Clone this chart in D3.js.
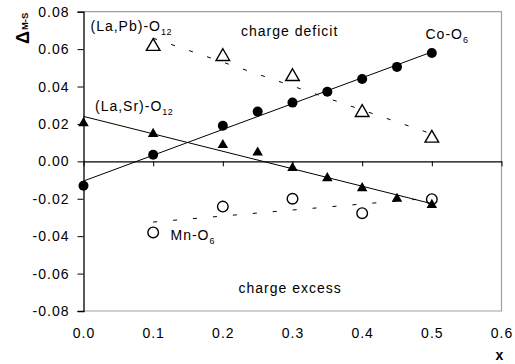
<!DOCTYPE html>
<html>
<head>
<meta charset="utf-8">
<script src="https://cdn.jsdelivr.net/npm/d3@7"></script>
<style>
  html, body { margin: 0; padding: 0; background: #fff; }
  svg { display: block; }
  text { font-family: "Liberation Sans", Arial, sans-serif; fill: #000; }
</style>
</head>
<body>
<svg id="chart" width="515" height="364"></svg>
<script>
// ---- data ----
const coX = [0.0, 0.1, 0.2, 0.25, 0.3, 0.35, 0.4, 0.45, 0.5];
const coY = [-0.013, 0.0035, 0.019, 0.0266, 0.0314, 0.0372, 0.044, 0.0505, 0.0579];
const srX = [0.0, 0.1, 0.2, 0.25, 0.3, 0.35, 0.4, 0.45, 0.5];
const srY = [0.0204, 0.0147, 0.0087, 0.0047, -0.0036, -0.009, -0.0143, -0.020, -0.0233];
const pbX = [0.1, 0.2, 0.3, 0.4, 0.5];
const pbY = [0.0614, 0.056, 0.0453, 0.0261, 0.0124];
const mnX = [0.1, 0.2, 0.3, 0.4, 0.5];
const mnY = [-0.038, -0.0242, -0.020, -0.0277, -0.0202];
const xTicks = [0.0, 0.1, 0.2, 0.3, 0.4, 0.5, 0.6];
const xTickLabels = ["0.0", "0.1", "0.2", "0.3", "0.4", "0.5", "0.6"];
const yTicks = [-0.08, -0.06, -0.04, -0.02, 0.0, 0.02, 0.04, 0.06, 0.08];
const yTickLabels = ["-0.08", "-0.06", "-0.04", "-0.02", "0.00", "0.02", "0.04", "0.06", "0.08"];

const svg = d3.select("#chart");
const L = 83.5, R = 501.5, T = 11.7, B = 311;
const x = d3.scaleLinear().domain([0, 0.6]).range([L, R]);
const y = d3.scaleLinear().domain([-0.08, 0.08]).range([B, T]);

function fit(xs, ys) {
  const mx = d3.mean(xs), my = d3.mean(ys);
  let sxy = 0, sxx = 0;
  xs.forEach((v, i) => { sxy += (v - mx) * (ys[i] - my); sxx += (v - mx) * (v - mx); });
  const b = sxy / sxx, a = my - b * mx;
  const x0 = d3.min(xs), x1 = d3.max(xs);
  return [[x0, a + b * x0], [x1, a + b * x1]];
}

// frame (gray)
svg.append("path")
  .attr("d", `M${L},${T}H${R}V${B}H${L}`)
  .attr("fill", "none").attr("stroke", "#a0a0a0").attr("stroke-width", 1.2);

// y axis
const yAxis = d3.axisLeft(y).tickValues(yTicks).tickSize(6).tickPadding(8)
  .tickFormat((d, i) => yTickLabels[i]);
const gy = svg.append("g").attr("transform", `translate(${L},0)`).call(yAxis);
gy.select(".domain").attr("stroke", "#000").attr("stroke-width", 1.3);
gy.selectAll(".tick line").attr("stroke", "#000");
gy.selectAll(".tick text").style("font-size", "14px").style("letter-spacing", "1px")
  .style("font-family", "Liberation Sans, Arial, sans-serif").attr("fill", "#000");

// zero line axis with ticks downward
const xAxis0 = d3.axisBottom(x).tickValues(xTicks).tickSize(5).tickFormat("").tickSizeOuter(0);
const gx0 = svg.append("g").attr("transform", `translate(0,${y(0)})`).call(xAxis0);
gx0.select(".domain").attr("stroke", "#000").attr("stroke-width", 1.2);
gx0.selectAll(".tick line").attr("stroke", "#000");

// bottom labels
const xAxisB = d3.axisBottom(x).tickValues(xTicks).tickSize(0).tickPadding(17)
  .tickFormat((d, i) => xTickLabels[i]);
const gxb = svg.append("g").attr("transform", `translate(0,${B})`).call(xAxisB);
gxb.select(".domain").remove();
gxb.selectAll(".tick text").style("font-size", "14px").style("letter-spacing", "1px")
  .style("font-family", "Liberation Sans, Arial, sans-serif").attr("fill", "#000");

// trend lines
const line = d3.line().x(d => x(d[0])).y(d => y(d[1]));
svg.append("path").attr("d", line(fit(coX, coY))).attr("stroke", "#000").attr("stroke-width", 1).attr("fill", "none");
svg.append("path").attr("d", line(fit(srX, srY))).attr("stroke", "#000").attr("stroke-width", 1).attr("fill", "none");
svg.append("path").attr("d", line(fit(pbX, pbY))).attr("stroke", "#000").attr("stroke-width", 1)
  .attr("stroke-dasharray", "4,15").attr("fill", "none");
svg.append("path").attr("d", line(fit(mnX, mnY))).attr("stroke", "#000").attr("stroke-width", 1)
  .attr("stroke-dasharray", "4,16").attr("fill", "none");

// open markers
svg.append("g").selectAll("circle").data(mnX).join("circle")
  .attr("cx", d => x(d)).attr("cy", (d, i) => y(mnY[i])).attr("r", 5.3)
  .attr("fill", "none").attr("stroke", "#000").attr("stroke-width", 1.4);
const triOpen = d3.symbol().type(d3.symbolTriangle).size(80);
svg.append("g").selectAll("path").data(pbX).join("path")
  .attr("d", triOpen).attr("transform", (d, i) => `translate(${x(d)},${y(pbY[i])})`)
  .attr("fill", "none").attr("stroke", "#000").attr("stroke-width", 1.4);

// filled markers
svg.append("g").selectAll("circle").data(coX).join("circle")
  .attr("cx", d => x(d)).attr("cy", (d, i) => y(coY[i])).attr("r", 5)
  .attr("fill", "#000");
const triFill = d3.symbol().type(d3.symbolTriangle).size(48);
svg.append("g").selectAll("path").data(srX).join("path")
  .attr("d", triFill).attr("transform", (d, i) => `translate(${x(d)},${y(srY[i])})`)
  .attr("fill", "#000");

// annotations
function label(px, py, main, sub) {
  const t = svg.append("text").attr("x", px).attr("y", py)
    .style("font-size", "14px").style("letter-spacing", "1px");
  t.append("tspan").text(main);
  if (sub) t.append("tspan").attr("dy", 4).style("font-size", "9px").style("letter-spacing", "0.5px").text(sub);
  return t;
}
label(90.5, 30.5, "(La,Pb)-O", "12");
label(95, 110.5, "(La,Sr)-O", "12");
label(425.5, 38.5, "Co-O", "6");
label(170.5, 240, "Mn-O", "6");
label(241, 35.5, "charge deficit");
label(238.5, 292.5, "charge excess");

// axis titles
svg.append("text").attr("x", 499.5).attr("y", 359.5)
  .attr("text-anchor", "middle").style("font-size", "14px").style("font-weight", "bold").text("x");
const yl = svg.append("text").attr("transform", "translate(28.5,44) rotate(-90)")
  .style("font-weight", "bold");
yl.append("tspan").style("font-size", "18px").text("Δ");
yl.append("tspan").attr("dx", 1).attr("dy", -0.5).style("font-size", "9.5px").text("M-S");
</script>
</body>
</html>
